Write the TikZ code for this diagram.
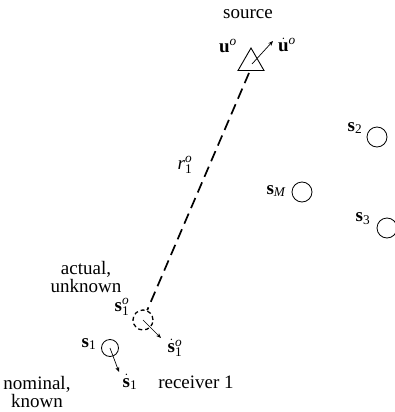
\documentclass[tikz,border=0pt]{standalone}
\usepackage{fontspec}
\setmainfont{Liberation Serif}
\usetikzlibrary{arrows.meta,shapes.geometric}
\begin{document}
\begin{tikzpicture}[x=1pt,y=-1pt,
  txt/.style={font=\fontsize{19}{18}\selectfont, inner sep=0pt, align=center},
  sensor/.style={circle, draw, line width=0.8pt, minimum size=20pt, inner sep=0pt},
  vel/.style={line width=0.7pt, -{Stealth[length=5pt,width=4pt]}},
  rangeline/.style={line width=1.7pt, dash pattern=on 11pt off 6pt}]
\useasboundingbox (0,0) rectangle (395,412);
% source
\node[txt] (srclbl) at (248,14) {source};
\node[draw, line width=0.9pt, regular polygon, regular polygon sides=3, minimum size=30pt, inner sep=0pt] (src) at (251,63) {};
\coordinate (srcc) at (252,64);
\coordinate (srcv) at (273,41);
\draw[vel] (srcc) -- (srcv);
\node[txt] (uo) at (228,46) {$\mathbf{u}^{\mathit{o}}$};
\node[txt] (udot) at (287,45) {$\dot{\mathbf{u}}^{\mathit{o}}$};
% actual receiver
\node[sensor, line width=1.3pt, dash pattern=on 4pt off 3pt, minimum size=20pt] (act) at (143,320) {};
\coordinate (srcb) at (249,73);
\draw[rangeline] (srcb) -- (act);
\node[txt] (r1) at (185,165) {$\mathit{r}_{\mathrm{1}}^{\mathit{o}}$};
\coordinate (actv) at (161,338);
\draw[vel] (act.center) -- (actv);
\node[txt] (s1o) at (122,307) {$\mathbf{s}_{\mathrm{1}}^{\mathit{o}}$};
\node[txt] (s1odot) at (175,348) {$\dot{\mathbf{s}}_{\mathrm{1}}^{\mathit{o}}$};
\node[txt] (actlbl) at (86,277) {actual,\\unknown};
% nominal receiver
\node[sensor, minimum size=17pt] (nom) at (110,348) {};
\coordinate (nomv) at (119,372);
\draw[vel] (nom.center) -- (nomv);
\node[txt] (s1) at (89,344) {$\mathbf{s}_{\mathrm{1}}$};
\node[txt] (s1dot) at (130,382) {$\dot{\mathbf{s}}_{\mathrm{1}}$};
\node[txt] (nomlbl) at (37,392) {nominal,\\known};
\node[txt] (rec) at (196,382) {receiver 1};
% other receivers
\node[sensor] (s2c) at (377,137) {};
\node[txt] (s2) at (355,128) {$\mathbf{s}_{\mathrm{2}}$};
\node[sensor] (sMc) at (302,192) {};
\node[txt] (sM) at (276,191) {$\mathbf{s}_{\mathit{M}}$};
\node[sensor] (s3c) at (387,228) {};
\node[txt] (s3) at (363,219) {$\mathbf{s}_{\mathrm{3}}$};
\end{tikzpicture}
\end{document}
